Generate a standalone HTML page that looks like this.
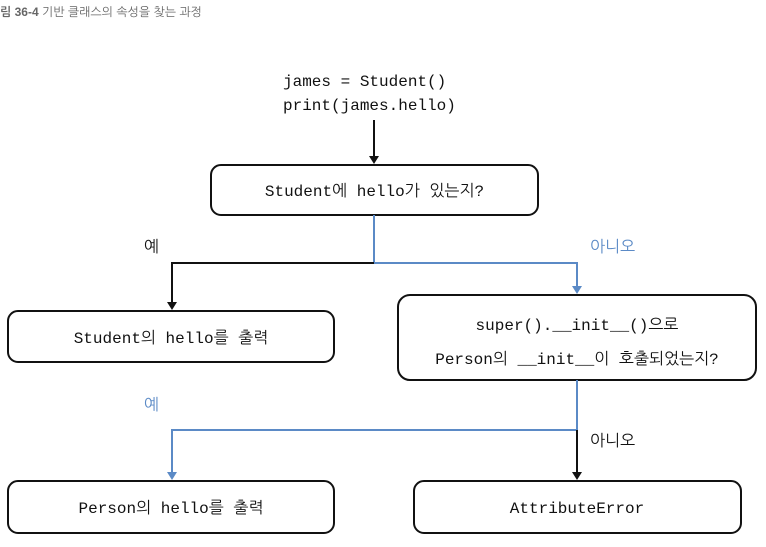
<!DOCTYPE html>
<html><head><meta charset="utf-8"><style>
html,body{margin:0;padding:0;background:#fff;}
svg{display:block;}
text{font-family:"Liberation Mono","NanumGothic","Noto Sans CJK KR",monospace;font-size:16px;fill:#111;}
.t{font-family:"Liberation Sans","NanumGothic","Noto Sans CJK KR",sans-serif;font-size:12px;fill:#666;}
</style></head><body>
<svg width="766" height="547" viewBox="0 0 766 547" xmlns="http://www.w3.org/2000/svg">
<defs>
<marker id="ak" markerWidth="8" markerHeight="8" refX="4" refY="7" orient="auto" markerUnits="userSpaceOnUse"><path d="M0,0 L8,0 L4,8 z" fill="#111" transform="rotate(-90 4 4)"/></marker>
</defs>
<text class="t" x="0" y="16"><tspan font-weight="bold">림 36-4</tspan> 기반 클래스의 속성을 찾는 과정</text>
<text x="283" y="86" font-size="17">james = Student()</text>
<text x="283" y="110" font-size="17">print(james.hello)</text>
<!-- top arrow -->
<line x1="374" y1="120" x2="374" y2="158" stroke="#111" stroke-width="2"/>
<path d="M369,156 L379,156 L374,164 z" fill="#111"/>
<rect x="211" y="165" width="327" height="50" rx="10" fill="#fff" stroke="#111" stroke-width="2"/>
<text x="374.5" y="196" text-anchor="middle">Student에 hello가 있는지?</text>
<!-- branches -->
<line x1="374" y1="215" x2="374" y2="263" stroke="#5b8ac6" stroke-width="2"/>
<polyline points="374,263 172,263 172,304" fill="none" stroke="#111" stroke-width="2"/>
<path d="M167,302 L177,302 L172,310 z" fill="#111"/>
<polyline points="374,263 577,263 577,288" fill="none" stroke="#5b8ac6" stroke-width="2"/>
<path d="M572,286 L582,286 L577,294 z" fill="#5b8ac6"/>
<text x="144" y="252">예</text>
<text x="590" y="252" style="fill:#5b8ac6">아니오</text>
<rect x="8" y="311" width="326" height="51" rx="10" fill="#fff" stroke="#111" stroke-width="2"/>
<text x="171" y="343" text-anchor="middle">Student의 hello를 출력</text>
<rect x="398" y="295" width="358" height="85" rx="12" fill="#fff" stroke="#111" stroke-width="2"/>
<text x="577" y="330" text-anchor="middle">super().__init__()으로</text>
<text x="577" y="364" text-anchor="middle">Person의 __init__이 호출되었는지?</text>
<!-- second branches -->
<line x1="577" y1="380" x2="577" y2="430" stroke="#5b8ac6" stroke-width="2"/>
<polyline points="577,430 172,430 172,474" fill="none" stroke="#5b8ac6" stroke-width="2"/>
<path d="M167,472 L177,472 L172,480 z" fill="#5b8ac6"/>
<line x1="577" y1="430" x2="577" y2="474" stroke="#111" stroke-width="2"/>
<path d="M572,472 L582,472 L577,480 z" fill="#111"/>
<text x="144" y="410" style="fill:#5b8ac6">예</text>
<text x="590" y="446">아니오</text>
<rect x="8" y="481" width="326" height="52" rx="10" fill="#fff" stroke="#111" stroke-width="2"/>
<text x="171" y="513" text-anchor="middle">Person의 hello를 출력</text>
<rect x="414" y="481" width="327" height="52" rx="10" fill="#fff" stroke="#111" stroke-width="2"/>
<text x="577" y="513" text-anchor="middle">AttributeError</text>
</svg>
</body></html>
